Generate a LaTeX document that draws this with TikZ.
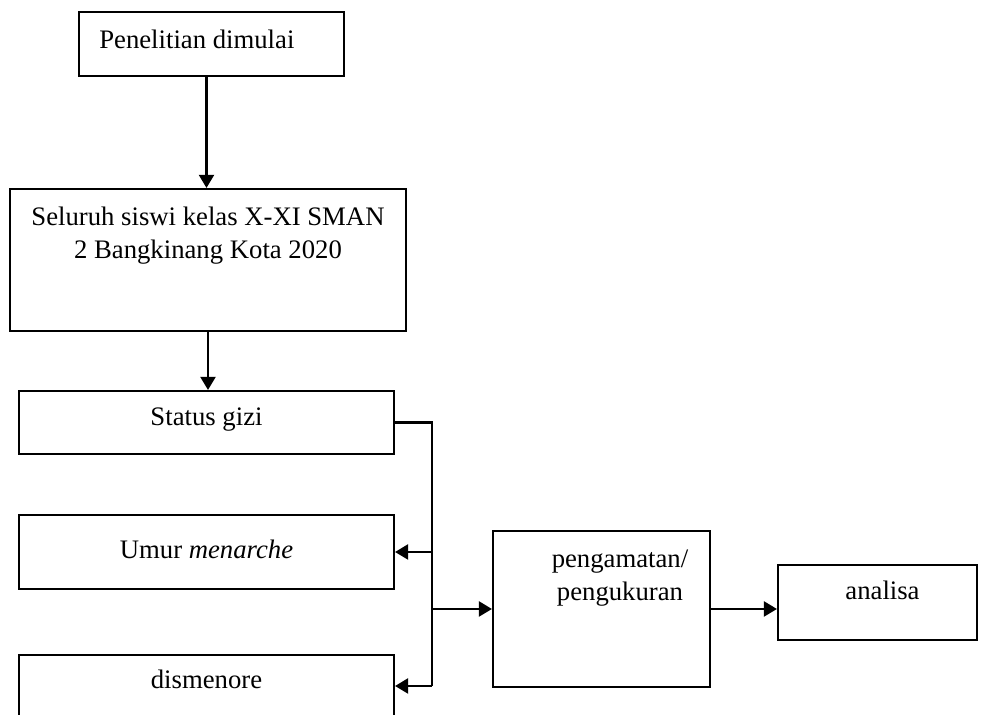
\documentclass[tikz,border=0pt]{standalone}
\usepackage{fontspec}
\setmainfont{Liberation Serif}
\usetikzlibrary{arrows.meta,positioning,calc}
\tikzset{
  >={Triangle[length=2.6mm, width=3mm]},
  box/.style={draw, line width=1.2pt, inner sep=0pt},
  txt/.style={font=\fontsize{15.2}{19.3}\selectfont, inner sep=0pt, align=center},
  flow/.style={->, line width=1.2pt},
  wire/.style={line width=1.2pt},
}
\begin{document}
\begin{tikzpicture}
  \useasboundingbox (0,0) rectangle (19.62,14.3);

  \node[box, minimum width=53mm, minimum height=12.8mm] (mulai) at (4.23,13.42) {};
  \node[txt, anchor=base west] (mulai-t) at ([xshift=4.2mm, yshift=-7.6mm]mulai.north west) {Penelitian dimulai};
  \node[box, minimum width=79.2mm, minimum height=28.4mm] (populasi) at (4.16,9.10) {};
  \node[txt, anchor=base] (populasi-t) at ([yshift=-14.2mm]populasi.north) {Seluruh siswi kelas X-XI SMAN\\2 Bangkinang Kota 2020};
  \node[box, minimum width=75mm, minimum height=12.6mm] (gizi) at (4.13,5.85) {};
  \node[txt, anchor=base] (gizi-t) at ([yshift=-7.2mm]gizi.north) {Status gizi};
  \node[box, minimum width=75mm, minimum height=14.8mm] (umur) at (4.13,3.26) {};
  \node[txt, anchor=base] (umur-t) at ([yshift=-8.9mm]umur.north) {Umur \textit{menarche}};
  \node[box, minimum width=75mm, minimum height=15mm] (dismenore) at (4.13,0.45) {};
  \node[txt, anchor=base] (dismenore-t) at ([yshift=-7mm]dismenore.north) {dismenore};
  \node[box, minimum width=43.4mm, minimum height=31.2mm] (ukur) at (12.03,2.12) {};
  \node[txt, anchor=base] (ukur-t) at ([xshift=3.7mm, yshift=-14.2mm]ukur.north) {pengamatan/\\pengukuran};
  \node[box, minimum width=39.8mm, minimum height=15mm] (analisa) at (17.55,2.25) {};
  \node[txt, anchor=base] (analisa-t) at ([xshift=1mm, yshift=-7.2mm]analisa.north) {analisa};

  \coordinate (bus) at (8.64,0.58);

  \draw[flow] ([xshift=-1mm]mulai.south) -- ([xshift=-1mm]mulai.south |- populasi.north);
  \draw[flow] (populasi.south) -- (populasi.south |- gizi.north);
  \draw[wire] (gizi.east) -| (bus);
  \draw[flow] (umur.east -| bus) -- (umur.east);
  \draw[flow] (bus) -- (bus -| dismenore.east);
  \draw[flow] (ukur.west -| bus) -- (ukur.west);
  \draw[flow] (ukur.east) -- (ukur.east -| analisa.west);
\end{tikzpicture}
\end{document}
